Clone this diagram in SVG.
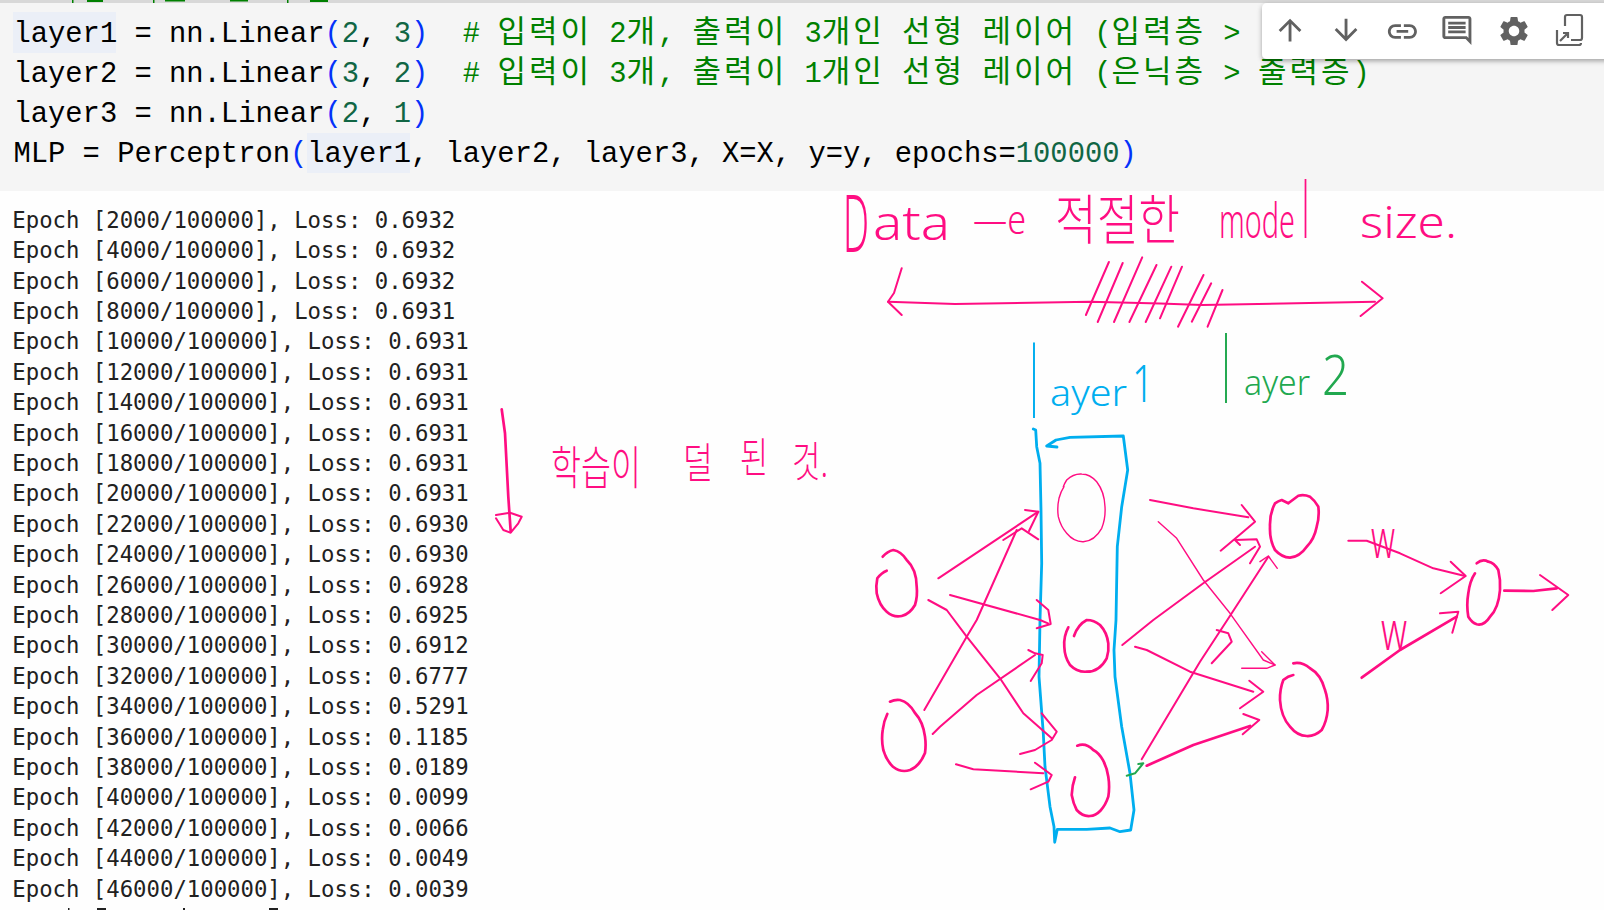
<svg xmlns="http://www.w3.org/2000/svg" width="1604" height="910" viewBox="0 0 1604 910">
<style>
.code{font-family:"Liberation Mono","Noto Sans CJK KR",monospace;font-size:28.8px;fill:#000;white-space:pre}
.out{font-family:"DejaVu Sans Mono",monospace;font-size:22.3px;fill:#212121}
.n{fill:#116644}.b{fill:#0431fa}.c{fill:#008000}
.h{font-family:"Noto Sans CJK KR",sans-serif;font-size:31px;letter-spacing:3px}
.hw{font-family:"Noto Sans","Noto Sans CJK KR",sans-serif;font-weight:300;fill:#ff0d82}
.hb{fill:#00aeef}.hg{fill:#21a84f}
.p,.pt,.pk,.bl,.gr{fill:none;stroke-linecap:round;stroke-linejoin:round}
.p{stroke:#ff0d82;stroke-width:2}
.pt{stroke:#ff0d82;stroke-width:1.4}
.pk{stroke:#ff0d82;stroke-width:2.7}
.bl{stroke:#00aeef;stroke-width:2.8}
.gr{stroke:#21a84f;stroke-width:2}
.ic{fill:#616161}
</style>
<defs><filter id="sh" x="-5%" y="-20%" width="110%" height="150%"><feDropShadow dx="0" dy="2" stdDeviation="2.5" flood-color="#000" flood-opacity=".35"/></filter></defs>
<rect width="1604" height="910" fill="#fefefe"/>
<g id="code-cell">
<rect width="1604" height="191" fill="#f5f5f5"/>
<rect width="1604" height="3" fill="#d8d8d8"/>
<g fill="#008000"><rect x="72" y="0" width="1.5" height="3"/><rect x="87" y="0" width="16" height="2"/><rect x="153" y="0" width="1.5" height="3"/><rect x="165" y="0" width="20" height="1.5"/><rect x="230" y="0" width="18" height="1.5"/><rect x="287" y="0" width="1.5" height="3"/><rect x="310" y="0" width="18" height="2"/></g>
<rect x="13" y="12" width="103" height="41" fill="#ebeff7"/>
<rect x="307" y="133" width="103" height="40" fill="#ebeff7"/>
<text class="code" xml:space="preserve" x="13.5" y="42">layer1 = nn.Linear<tspan class="b">(</tspan><tspan class="n">2</tspan>, <tspan class="n">3</tspan><tspan class="b">)</tspan>  <tspan class="c"># <tspan class="h">입력이</tspan> 2<tspan class="h">개</tspan>, <tspan class="h">출력이</tspan> 3<tspan class="h">개인</tspan> <tspan class="h">선형</tspan> <tspan class="h">레이어</tspan> (<tspan class="h">입력층</tspan> &gt; </tspan></text>
<text class="code" xml:space="preserve" x="13.5" y="82">layer2 = nn.Linear<tspan class="b">(</tspan><tspan class="n">3</tspan>, <tspan class="n">2</tspan><tspan class="b">)</tspan>  <tspan class="c"># <tspan class="h">입력이</tspan> 3<tspan class="h">개</tspan>, <tspan class="h">출력이</tspan> 1<tspan class="h">개인</tspan> <tspan class="h">선형</tspan> <tspan class="h">레이어</tspan> (<tspan class="h">은닉층</tspan> &gt; <tspan class="h">출력층</tspan>)</tspan></text>
<text class="code" x="13.5" y="122">layer3 = nn.Linear<tspan class="b">(</tspan><tspan class="n">2</tspan>, <tspan class="n">1</tspan><tspan class="b">)</tspan></text>
<text class="code" x="13.5" y="162">MLP = Perceptron<tspan class="b">(</tspan>layer1, layer2, layer3, X=X, y=y, epochs=<tspan class="n">100000</tspan><tspan class="b">)</tspan></text>
</g>
<g id="toolbar">
<rect x="1262" y="3" width="360" height="56" rx="5" fill="#fff" filter="url(#sh)"/>
<g class="ic">
<path transform="translate(1273,13) scale(1.42)" d="M4 12l1.41 1.41L11 7.83V20h2V7.83l5.58 5.59L20 12l-8-8-8 8z"/>
<path transform="translate(1329,13) scale(1.42)" d="M20 12l-1.41-1.41L13 16.17V4h-2v12.17l-5.58-5.59L4 12l8 8 8-8z"/>
<path transform="translate(1385,14) scale(1.45)" d="M3.9 12c0-1.71 1.39-3.1 3.1-3.1h4V7H7c-2.76 0-5 2.24-5 5s2.24 5 5 5h4v-1.9H7c-1.71 0-3.1-1.39-3.1-3.1zM8 13h8v-2H8v2zm9-6h-4v1.9h4c1.71 0 3.1 1.39 3.1 3.1s-1.39 3.1-3.1 3.1h-4V17h4c2.76 0 5-2.24 5-5s-2.24-5-5-5z"/>
<path transform="translate(1439.5,13) scale(1.45)" d="M21.99 4c0-1.1-.89-2-1.99-2H4c-1.1 0-2 .9-2 2v12c0 1.1.9 2 2 2h14l4 4-.01-18zM20 4v13.17L18.83 16H4V4h16zM6 12h12v2H6zm0-3h12v2H6zm0-3h12v2H6z"/>
<path transform="translate(1496.5,13.5) scale(1.46)" d="M19.14 12.94c.04-.3.06-.61.06-.94 0-.32-.02-.64-.07-.94l2.03-1.58c.18-.14.23-.41.12-.61l-1.92-3.32c-.12-.22-.37-.29-.59-.22l-2.39.96c-.5-.38-1.03-.7-1.62-.94l-.36-2.54c-.04-.24-.24-.41-.48-.41h-3.84c-.24 0-.43.17-.47.41l-.36 2.54c-.59.24-1.13.57-1.62.94l-2.39-.96c-.22-.08-.47 0-.59.22L2.74 8.87c-.12.21-.08.47.12.61l2.03 1.58c-.05.3-.09.63-.09.94s.02.64.07.94l-2.03 1.58c-.18.14-.23.41-.12.61l1.92 3.32c.12.22.37.29.59.22l2.39-.96c.5.38 1.03.7 1.62.94l.36 2.54c.05.24.24.41.48.41h3.84c.24 0 .44-.17.47-.41l.36-2.54c.59-.24 1.13-.56 1.62-.94l2.39.96c.22.08.47 0 .59-.22l1.92-3.32c.12-.22.07-.47-.12-.61l-2.01-1.58zM12 15.6c-1.98 0-3.6-1.62-3.6-3.6s1.62-3.6 3.6-3.6 3.6 1.62 3.6 3.6-1.62 3.6-3.6 3.6z"/>
</g>
<path d="M1565 26V17a2 2 0 0 1 2-2h13a2 2 0 0 1 2 2v21a2 2 0 0 1-2 2h-9M1557 30v13a2 2 0 0 0 2 2h20a2 2 0 0 0 2-2M1560 41l8-8M1563 33h5v5" fill="none" stroke="#616161" stroke-width="2.2"/>
</g>
<g id="output-log" class="out">
<text x="12.3" y="227.7">Epoch [2000/100000], Loss: 0.6932</text>
<text x="12.3" y="258.1">Epoch [4000/100000], Loss: 0.6932</text>
<text x="12.3" y="288.5">Epoch [6000/100000], Loss: 0.6932</text>
<text x="12.3" y="318.9">Epoch [8000/100000], Loss: 0.6931</text>
<text x="12.3" y="349.3">Epoch [10000/100000], Loss: 0.6931</text>
<text x="12.3" y="379.7">Epoch [12000/100000], Loss: 0.6931</text>
<text x="12.3" y="410.1">Epoch [14000/100000], Loss: 0.6931</text>
<text x="12.3" y="440.5">Epoch [16000/100000], Loss: 0.6931</text>
<text x="12.3" y="470.9">Epoch [18000/100000], Loss: 0.6931</text>
<text x="12.3" y="501.3">Epoch [20000/100000], Loss: 0.6931</text>
<text x="12.3" y="531.7">Epoch [22000/100000], Loss: 0.6930</text>
<text x="12.3" y="562.1">Epoch [24000/100000], Loss: 0.6930</text>
<text x="12.3" y="592.5">Epoch [26000/100000], Loss: 0.6928</text>
<text x="12.3" y="622.9">Epoch [28000/100000], Loss: 0.6925</text>
<text x="12.3" y="653.3">Epoch [30000/100000], Loss: 0.6912</text>
<text x="12.3" y="683.7">Epoch [32000/100000], Loss: 0.6777</text>
<text x="12.3" y="714.1">Epoch [34000/100000], Loss: 0.5291</text>
<text x="12.3" y="744.5">Epoch [36000/100000], Loss: 0.1185</text>
<text x="12.3" y="774.9">Epoch [38000/100000], Loss: 0.0189</text>
<text x="12.3" y="805.3">Epoch [40000/100000], Loss: 0.0099</text>
<text x="12.3" y="835.7">Epoch [42000/100000], Loss: 0.0066</text>
<text x="12.3" y="866.1">Epoch [44000/100000], Loss: 0.0049</text>
<text x="12.3" y="896.5">Epoch [46000/100000], Loss: 0.0039</text>
<rect x="68" y="908" width="1.5" height="2" fill="#212121"/><rect x="97" y="908" width="9" height="2" fill="#212121"/><rect x="183" y="908" width="2" height="2" fill="#212121"/><rect x="269" y="908" width="9" height="2" fill="#212121"/>
</g>
<g id="note-title">
<text class="hw"><tspan x="843" y="252" font-size="80" textLength="26" lengthAdjust="spacingAndGlyphs">D</tspan><tspan x="873" y="240" font-size="48" textLength="77" lengthAdjust="spacingAndGlyphs">ata</tspan> <tspan x="973" y="234" font-size="40" textLength="53" lengthAdjust="spacingAndGlyphs">—e</tspan> <tspan x="1055" y="240" font-size="54" textLength="125" lengthAdjust="spacingAndGlyphs">적절한</tspan> <tspan x="1219" y="238" font-size="48" textLength="76" lengthAdjust="spacingAndGlyphs">mode</tspan><tspan x="1302" y="238" font-size="78" textLength="7" lengthAdjust="spacingAndGlyphs">l</tspan> <tspan x="1360" y="238" font-size="44" textLength="97" lengthAdjust="spacingAndGlyphs">size.</tspan></text>
<path class="p" d="M888 301.7L955 304L1090 301.7L1160 303.5L1202 305L1375 301.7"/>
<path class="p" d="M901.7 268.3L894 293L888 301.7L901.7 315M1362 281.7L1382.6 298.3L1360.6 316"/>
<path class="p" d="M1108.9 262L1085.9 315M1122.7 263L1097.7 322M1142.2 257.3L1114 322M1156.5 265L1129.4 322M1171.3 266.7L1145.7 322M1182 266.7L1160 318.3M1203.5 275L1178 326.7M1211.2 283.3L1191.8 321.7M1222.5 290L1207.6 326.7"/>
</g>
<g id="note-underfit">
<path class="pk" d="M501.7 409.3L505 433.3L508.3 496.7L510.7 531.7"/>
<path class="p" d="M496 515L510 512.7L521.7 516.7L518.3 523.3L510.7 532.7L503.3 530L496 518.3"/>
<text class="hw"><tspan x="551" y="484" font-size="46" textLength="90" lengthAdjust="spacingAndGlyphs">학습이</tspan> <tspan x="683" y="478" font-size="42" textLength="30" lengthAdjust="spacingAndGlyphs">덜</tspan> <tspan x="740" y="473" font-size="42" textLength="28" lengthAdjust="spacingAndGlyphs">된</tspan> <tspan x="792" y="477" font-size="42" textLength="36" lengthAdjust="spacingAndGlyphs">것.</tspan></text>
</g>
<g id="label-layer1">
<text class="hw hb"><tspan x="1030" y="418" font-size="100" textLength="8" lengthAdjust="spacingAndGlyphs">l</tspan><tspan x="1050" y="406" font-size="36" textLength="77" lengthAdjust="spacingAndGlyphs">ayer</tspan><tspan x="1132" y="402" font-size="52" textLength="22" lengthAdjust="spacingAndGlyphs">1</tspan></text>
</g>
<g id="label-layer2">
<text class="hw hg"><tspan x="1222" y="403" font-size="92" textLength="8" lengthAdjust="spacingAndGlyphs">l</tspan><tspan x="1244" y="395" font-size="34" textLength="66" lengthAdjust="spacingAndGlyphs">ayer</tspan><tspan x="1322" y="395" font-size="55" textLength="27" lengthAdjust="spacingAndGlyphs">2</tspan></text>
</g>
<g id="layer1-box"><path class="bl" d="M1033.3 429L1035.7 430L1036.7 446.7L1040 463.3L1041 510L1041.7 563.3L1040 620L1039 676.7L1043.3 733.3L1045 766.7L1050 806.7L1054 826.7L1054.7 842.3L1057.3 829.3L1086.7 829.3L1110 828L1120 831.7L1130.7 830L1134 810L1130 773.3L1121.7 726.7L1115 676.7L1114 650L1116 620L1117.3 546.7L1121.7 506.7L1127.7 470L1123.3 436L1070 437.3L1056 440L1046.7 446L1057 447"/></g>
<g id="node-input1"><path class="pk" d="M882.7 556.7A22 32 0 0 1 893.3 550A22 32 0 0 1 906.7 560A22 32 0 0 1 916.7 586.7A22 32 0 0 1 915 605A22 32 0 0 1 901.7 616A22 32 0 0 1 886.7 611.7A22 32 0 0 1 876.7 593.3A22 32 0 0 1 877.3 578.3A22 32 0 0 1 886.7 570.7"/></g>
<g id="node-input2"><path class="pk" d="M890 701.7A25 38 0 0 1 900 700A25 38 0 0 1 915 713A25 38 0 0 1 925 736.7A25 38 0 0 1 925 753A25 38 0 0 1 910 770A25 38 0 0 1 893 766.7A25 38 0 0 1 883.3 750A25 38 0 0 1 882.7 730A25 38 0 0 1 887.3 714"/></g>
<g id="node-hidden1"><path class="pt" d="M1063.3 486.7A25 36 0 0 1 1066.7 480A25 36 0 0 1 1081.7 474A25 36 0 0 1 1096.7 481.7A25 36 0 0 1 1105 506.7A25 36 0 0 1 1101.7 528.3A25 36 0 0 1 1083.3 541.7A25 36 0 0 1 1066.7 533.3A25 36 0 0 1 1058.3 516.7A25 36 0 0 1 1059 498.3A25 36 0 0 1 1064 486.7"/></g>
<g id="node-hidden2"><path class="pk" d="M1074 636A24 30 0 0 1 1086.7 620A24 30 0 0 1 1100 625A24 30 0 0 1 1108.3 643.3A24 30 0 0 1 1106.7 658.3A24 30 0 0 1 1086.7 671.7A24 30 0 0 1 1070 665A24 30 0 0 1 1064.3 646.7A24 30 0 0 1 1068.3 627.3"/></g>
<g id="node-hidden3"><path class="pk" d="M1077.3 745.7A22 38 0 0 1 1093.3 750A22 38 0 0 1 1108.3 776.7A22 38 0 0 1 1108.3 796.7A22 38 0 0 1 1090 816A22 38 0 0 1 1076.7 810A22 38 0 0 1 1071.7 795A22 38 0 0 1 1075 777.3"/></g>
<g id="node-layer2-1"><path class="pk" d="M1288.3 503.3L1281.7 500A26 36 0 0 0 1275 503.3A26 36 0 0 0 1270 526.7A26 36 0 0 0 1275 550A26 36 0 0 0 1290 557.7A26 36 0 0 0 1306.7 546.7A26 36 0 0 0 1316.7 526.7A26 36 0 0 0 1318.3 506.7A26 36 0 0 0 1310 496.7A26 36 0 0 0 1298.3 495.7L1288.3 503.3"/></g>
<g id="node-layer2-2"><path class="pk" d="M1293.3 663.3A26 38 0 0 1 1310 668.3A26 38 0 0 1 1325 690A26 38 0 0 1 1327.7 710A26 38 0 0 1 1321.7 730A26 38 0 0 1 1306.7 736A26 38 0 0 1 1290 726.7A26 38 0 0 1 1280 700A26 38 0 0 1 1283.3 680A26 38 0 0 1 1293.3 675"/></g>
<g id="node-output"><path class="pk" d="M1475 573.3A18 36 0 0 0 1468.3 593.3A18 36 0 0 0 1468.3 616.7A18 36 0 0 0 1476.7 624.3A18 36 0 0 0 1490 616.7A18 36 0 0 0 1500 590A18 36 0 0 0 1498.3 570A18 36 0 0 0 1488.3 561.7A18 36 0 0 0 1476.7 563.3"/></g>
<g id="connectors">
<path class="p" d="M938.3 578.3L1038.3 511.7"/><path class="p" d="M1025 510L1038.3 511.7L1029 531"/>
<path class="p" d="M924.3 710L966.7 636.7L976.7 620L1016.7 530"/><path class="p" d="M1003.3 540L1021.7 528.3L1038.3 539.3"/>
<path class="p" d="M950 595L1040 620L1048 623.3"/><path class="p" d="M1036.7 600L1048.3 610L1050.7 624L1036.7 628.3"/>
<path class="p" d="M928.3 600L946.7 610L966.7 636.7L1000 678.3L1023.3 713.3L1051.7 738.3"/><path class="p" d="M1041.7 713.3L1056.7 731.7L1051.7 740L1035 750L1020 754"/>
<path class="p" d="M932.7 734L940 726.7L976.7 695L1035 655"/><path class="p" d="M1028.3 650L1035 653.3L1042.7 655L1041.7 663.3L1030.7 681"/>
<path class="p" d="M956 764.3L973.3 769.3L1043.3 773.3"/><path class="p" d="M1035 762.7L1051.7 775L1048.3 781.7L1030.7 789.3"/>
<path class="p" d="M1150 500L1193.3 508.3L1248.3 517.3"/><path class="p" d="M1241.7 505L1255 521.7L1243.3 531.7L1220.7 550.7"/>
<path class="p" d="M1122.3 645L1153.3 620L1203.3 583.3L1255 546.7"/><path class="p" d="M1240 545L1235 540L1256.7 539.3L1260 546.7L1250 563.3"/>
<path class="p" d="M1141.7 759.3L1200 661.7L1231.7 613.3L1268.3 556.7"/><path class="pt" d="M1260 561.7L1268.3 556L1277.3 568.3"/>
<path class="pt" d="M1158.3 521.7L1176.7 538.3L1203.3 580L1230 613.3L1263.3 660L1275 665"/><path class="pt" d="M1261.7 651.7L1275 665L1266.7 668.3L1241.7 668.3"/>
<path class="p" d="M1135 646.7L1146.7 650L1190 671.7L1253.3 691.7"/><path class="p" d="M1249.3 680.7L1263.3 691.7L1240 708.3"/>
<path class="pk" d="M1146.7 765.7L1193.3 745L1250 726"/><path class="p" d="M1243.3 714L1259.3 720L1242.7 734.3"/>
<path class="p" d="M1216.7 630L1228.3 633.3L1231.7 641.7L1211.7 663.3"/>
<path class="gr" d="M1126.7 775.7L1135 773.3L1142.7 764M1138.3 764L1143.3 763.3"/>
<path class="p" d="M1348.3 540.7L1366.7 540.7L1400 553.3L1433.3 568.3L1465 576"/><path class="p" d="M1450.7 561.7L1465.7 576L1440.7 593.3"/>
<path class="pk" d="M1361.7 677.7L1400 650L1456.7 616.7"/><path class="p" d="M1440 613.3L1458.3 611.7L1452.3 632.7"/>
<path class="pk" d="M1504.3 590.7L1533.3 591L1556.7 588.3"/><path class="p" d="M1540 575L1568.3 595L1552.3 610"/>
</g>
<g id="label-w">
<text class="hw"><tspan x="1371" y="558" font-size="56" textLength="24" lengthAdjust="spacingAndGlyphs">w</tspan></text>
<text class="hw"><tspan x="1381" y="650" font-size="56" textLength="26" lengthAdjust="spacingAndGlyphs">w</tspan></text>
</g>
</svg>
